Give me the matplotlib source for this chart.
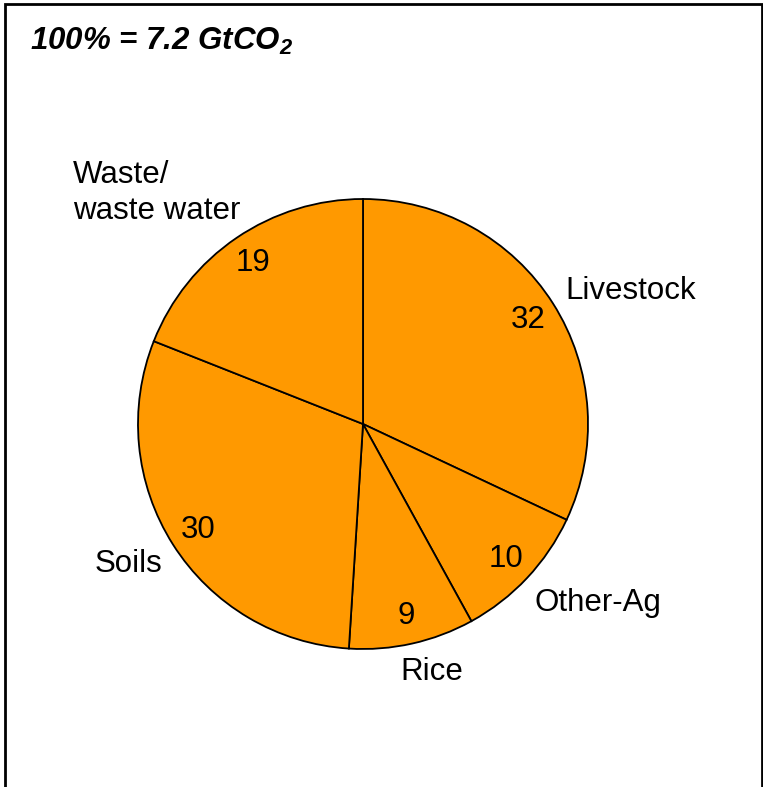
import numpy as np
import matplotlib.pyplot as plt
from matplotlib.patches import Rectangle

plt.rcParams['font.family'] = ['Liberation Sans', 'DejaVu Sans']

# share of agriculture/waste emissions, percent of 7.2 GtCO2
categories = ['Livestock', 'Other-Ag', 'Rice', 'Soils', 'Waste/\nwaste water']
shares = [32, 10, 9, 30, 19]

# label anchors in pixels (x, y from top) and alignment
label_pos = [(565, 291, 'left'), (535, 603, 'left'), (432, 672, 'center'),
             (162, 564, 'right'), (73, 193, 'left')]

W, H = 763, 787
fig = plt.figure(figsize=(W / 100, H / 100), dpi=100)
ax = fig.add_axes([0, 0, 1, 1])

cx, cy, r = 363, H - 424, 225
wedges, _ = ax.pie(shares, startangle=90, counterclock=False,
                   colors=['#FF9900'] * len(shares),
                   wedgeprops=dict(edgecolor='black', linewidth=1.3),
                   center=(cx, cy), radius=r)

# value inside each slice
for w, v in zip(wedges, shares):
    mid = np.deg2rad((w.theta1 + w.theta2) / 2)
    ax.text(cx + 0.87 * r * np.cos(mid), cy + 0.87 * r * np.sin(mid) - 1, str(v),
            ha='center', va='center', fontsize=22.5)

for name, (x, y, ha) in zip(categories, label_pos):
    ax.text(x, H - y, name, ha=ha, va='center', fontsize=22.5, linespacing=1.25)

ax.text(30, H - 41, r'100% = 7.2 GtCO$_\mathregular{2}$', fontsize=22.5,
        fontweight='bold', fontstyle='italic', va='center', ha='left')

# outer frame, open at the bottom
ax.add_patch(Rectangle((5, -20), 757, H - 4 + 20, fill=False,
                       edgecolor='black', linewidth=2))

ax.set_xlim(0, W)
ax.set_ylim(0, H)
ax.set_aspect('auto')
ax.axis('off')

fig.savefig('out.png', dpi=100)
